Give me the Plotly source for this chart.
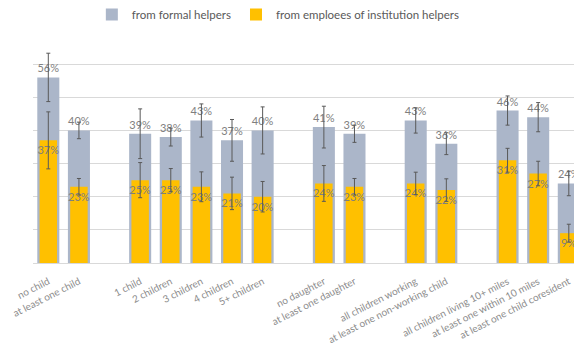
import plotly.graph_objects as go

# Groups of categories (a blank slot separates groups on the axis)
groups = [
    ["no child", "at least one child"],
    ["1 child", "2 children", "3 children", "4 children", "5+ children"],
    ["no daughter", "at least one daughter"],
    ["all children working", "at least one non-working child"],
    ["all children living 10+ miles", "at least one within 10 miles", "at least one child coresident"],
]

formal = [56, 40, 39, 38, 43, 37, 40, 41, 39, 43, 36, 46, 44, 24]
formal_err = [7.3, 2.5, 7.5, 2.7, 5.0, 6.3, 7.1, 6.3, 2.6, 3.8, 3.3, 4.4, 4.4, 3.7]

institution = [37, 23, 25, 25, 23, 21, 20, 24, 23, 24, 22, 31, 27, 9]
institution_err = [8.6, 2.5, 5.3, 3.5, 4.5, 4.9, 4.6, 5.4, 2.5, 3.4, 3.4, 3.6, 3.7, 2.7]

# positions derived from group structure
labels, xs = [], []
pos = 0
for g in groups:
    for c in g:
        labels.append(c)
        xs.append(pos)
        pos += 1
    pos += 1

GRAY = "#ABB6C9"
YELLOW = "#FFC000"
TXT = "#7F7F7F"
FONT = "Lato"

fig = go.Figure()
fig.add_trace(go.Bar(
    x=xs, y=formal, name="from formal helpers",
    marker=dict(color=GRAY, line=dict(width=0)),
    width=0.72,
    text=[f"{v}%" for v in formal], textposition="outside", textangle=0,
    textfont=dict(family=FONT, size=11, color=TXT),
    constraintext="none", cliponaxis=False,
    error_y=dict(type="data", array=formal_err, color="#595959", thickness=1, width=2),
))
fig.add_trace(go.Bar(
    x=xs, y=institution, name="from emploees of institution helpers",
    marker=dict(color=YELLOW, line=dict(width=0)),
    width=0.57,
    text=[f"{v}%" for v in institution], textposition="inside", insidetextanchor="end",
    textangle=0,
    textfont=dict(family=FONT, size=11, color=TXT),
    constraintext="none",
    error_y=dict(type="data", array=institution_err, color="#595959", thickness=1, width=2),
))

fig.update_layout(
    width=574, height=345,
    margin=dict(l=33, r=0, t=31, b=82),
    barmode="overlay",
    plot_bgcolor="white", paper_bgcolor="white",
    uniformtext=dict(minsize=11, mode="show"),
    font=dict(family=FONT, color=TXT),
    showlegend=True,
    legend=dict(orientation="h", xref="container", yref="container",
                x=0.16, y=1.0, xanchor="left", yanchor="top",
                itemwidth=30,
                font=dict(family=FONT, size=11.5, color="#595959"),
                traceorder="normal"),
    xaxis=dict(range=[-0.5, 17.17], tickmode="array", tickvals=xs, ticktext=labels,
               tickangle=-27, tickfont=dict(family=FONT, size=10, color="#8C8C8C"),
               ticklabelstandoff=8,
               showgrid=False, zeroline=False, showline=True, linecolor="#D9D9D9",
               ticks=""),
    yaxis=dict(range=[0, 70], dtick=10, showticklabels=False, showgrid=True,
               gridcolor="#D9D9D9", zeroline=False, showline=False, ticks=""),
)

fig.write_html("out.html")
